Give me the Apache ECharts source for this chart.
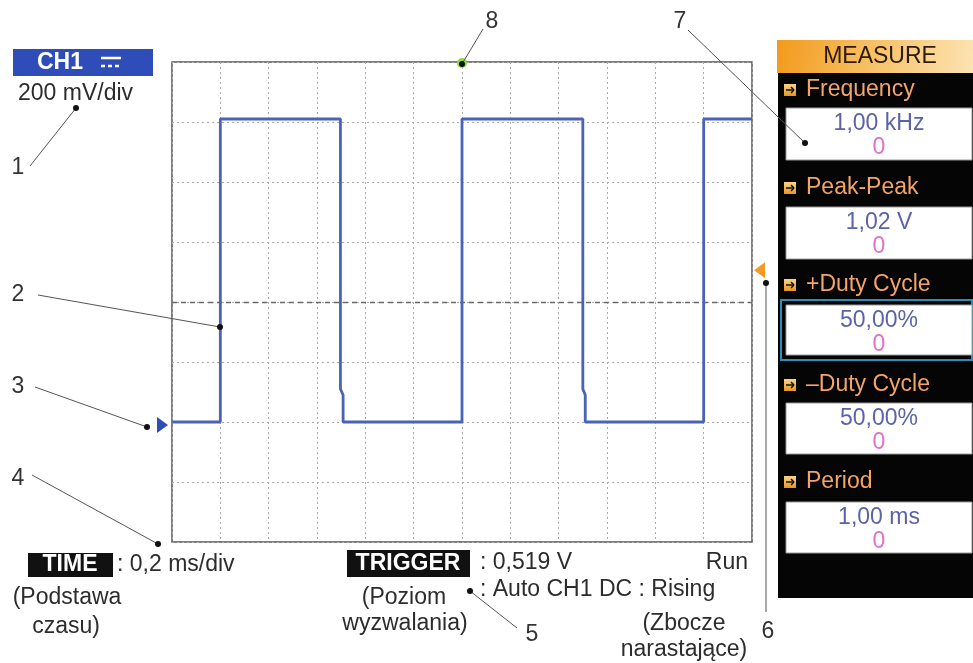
<!DOCTYPE html>
<html>
<head>
<meta charset="utf-8">
<script src="https://cdn.jsdelivr.net/npm/echarts@6/dist/echarts.min.js"></script>
<style>
html,body{margin:0;padding:0;background:#fff;}
#c{width:973px;height:663px;}
</style>
</head>
<body>
<div id="c"></div>
<script>
// ---- data (time in microseconds, voltage in millivolts) ----
const timeUs  = [-1200, -1000, -1000, -503, -503, -492, -492, 0, 0, 500, 500, 510, 510, 1000, 1000, 1200];
const voltsMv = [0, 0, 1010, 1010, 110, 90, 0, 0, 1010, 1010, 110, 90, 0, 0, 1010, 1010];
const xMin = -1200, xMax = 1200, xStep = 200;     // 0,2 ms/div
const yMin = -400, yMax = 1200, yStep = 200;      // 200 mV/div
const centerLineMv = 400;
const triggerLevelMv = 519;
const triggerTimeUs = 0;

const measureLabels = ['Frequency', 'Peak-Peak', '+Duty Cycle', '\u2013Duty Cycle', 'Period'];
const measureValues = ['1,00 kHz', '1,02 V', '50,00%', '50,00%', '1,00 ms'];
const measureZeros  = ['0', '0', '0', '0', '0'];

const FONT = '"Liberation Sans", Arial, sans-serif';
const chart = echarts.init(document.getElementById('c'));

const grid = {left: 172, top: 62, width: 580, height: 480};

function txt(x, y, text, opts) {
  opts = opts || {};
  return {type: 'text', x: x, y: y, z: opts.z || 10, style: {
    text: text, fill: opts.fill || '#2c2c2c', font: (opts.weight || 'normal') + ' ' + (opts.size || 23) + 'px ' + FONT,
    align: opts.align || 'left', verticalAlign: 'middle'}};
}
function rect(x, y, w, h, fill, stroke, lw, z) {
  return {type: 'rect', shape: {x: x, y: y, width: w, height: h}, z: z || 5,
    style: {fill: fill, stroke: stroke || null, lineWidth: lw || 0}};
}
function line(x1, y1, x2, y2, color, w, dash, z) {
  return {type: 'line', shape: {x1: x1, y1: y1, x2: x2, y2: y2}, z: z || 20,
    style: {stroke: color || '#555', lineWidth: w || 1, lineDash: dash || null}};
}
function dot(x, y, r, fill, z) {
  return {type: 'circle', shape: {cx: x, cy: y, r: r || 3}, z: z || 21, style: {fill: fill || '#111'}};
}

const g = [];
// CH1 badge
g.push(rect(13, 49, 140, 27, '#2f4db9', null, 0, 5));
g.push(txt(37, 63, 'CH1', {fill: '#fff', weight: 'bold'}));
g.push(line(101, 58, 121, 58, '#fff', 2.5, null, 11));
g.push(line(101, 66, 121, 66, '#fff', 2.5, [4, 3], 11));
g.push(txt(18, 94, '200 mV/div'));
// TIME
g.push(rect(28, 553, 85, 24, '#111'));
g.push(txt(70, 565, 'TIME', {fill: '#fff', weight: 'bold', align: 'center'}));
g.push(txt(117, 565, ': 0,2 ms/div'));
g.push(txt(67, 598, '(Podstawa', {align: 'center'}));
g.push(txt(66, 627, 'czasu)', {align: 'center'}));
// TRIGGER
g.push(rect(347, 550, 123, 27, '#111'));
g.push(txt(408, 564, 'TRIGGER', {fill: '#fff', weight: 'bold', align: 'center'}));
g.push(txt(480, 563, ': 0,519 V'));
g.push(txt(748, 563, 'Run', {align: 'right'}));
g.push(txt(480, 590, ': Auto CH1 DC : Rising'));
g.push(txt(404, 598, '(Poziom', {align: 'center'}));
g.push(txt(405, 624, 'wyzwalania)', {align: 'center'}));
g.push(txt(684, 624, '(Zbocze', {align: 'center'}));
g.push(txt(684, 650, 'narastaj\u0105ce)', {align: 'center'}));

// MEASURE panel
g.push({type: 'rect', shape: {x: 777, y: 40, width: 196, height: 33}, z: 5,
  style: {fill: new echarts.graphic.LinearGradient(0, 0, 1, 1, [
    {offset: 0, color: '#f29a1c'}, {offset: 0.5, color: '#f8c268'}, {offset: 1, color: '#fde3b4'}])}});
g.push(txt(880, 57, 'MEASURE', {fill: '#2b1b08', align: 'center'}));
g.push(rect(778, 73, 195, 525, '#050505'));
const labelY = [90, 188, 285, 385, 482];
const boxTop = [108, 207, 305, 403, 502];
const boxH   = [52, 52, 50, 51, 51];
for (let i = 0; i < measureLabels.length; i++) {
  g.push({type: 'rect', shape: {x: 784, y: labelY[i] - 6, width: 12, height: 12}, z: 8,
    style: {fill: new echarts.graphic.LinearGradient(0, 0, 0, 1, [
      {offset: 0, color: '#fbd38a'}, {offset: 1, color: '#e9951f'}])}});
  g.push(line(786, labelY[i], 794, labelY[i], '#111', 1.5, null, 9));
  g.push(line(791, labelY[i] - 3, 794, labelY[i], '#111', 1.5, null, 9));
  g.push(line(791, labelY[i] + 3, 794, labelY[i], '#111', 1.5, null, 9));
  g.push(txt(806, labelY[i], measureLabels[i], {fill: '#f3a36b'}));
  if (i === 2) g.push(rect(781, 300, 191, 60, null, '#2d8fb5', 2, 6));
  g.push(rect(786, boxTop[i], 186, boxH[i], '#fff', '#999', 1, 7));
  g.push(txt(879, boxTop[i] + 16, measureValues[i], {fill: '#5b62a8', align: 'center'}));
  g.push(txt(879, boxTop[i] + 40, measureZeros[i], {fill: '#e070c8', align: 'center'}));
}

// annotation numbers and leaders
const nums = [['1', 18, 168], ['2', 18, 295], ['3', 18, 387], ['4', 18, 479], ['5', 532, 635], ['6', 768, 632], ['7', 680, 22], ['8', 492, 22]];
nums.forEach(n => g.push(txt(n[1], n[2], n[0], {fill: '#333', align: 'center'})));
const leaders = [[30, 166, 76, 108], [38, 295, 220, 327], [35, 387, 147, 427], [32, 475, 158, 544],
                 [517, 628, 470, 591], [766, 612, 766, 283], [688, 30, 805, 143], [483, 29, 462, 64]];
leaders.forEach(l => { g.push(line(l[0], l[1], l[2], l[3], '#555', 1)); g.push(dot(l[2], l[3], 3)); });

const option = {
  backgroundColor: '#fff',
  animation: false,
  grid: Object.assign({show: true, borderColor: '#555', borderWidth: 1.5, backgroundColor: 'transparent'}, grid),
  xAxis: {type: 'value', min: xMin, max: xMax, interval: xStep,
    axisLine: {show: false}, axisTick: {show: false}, axisLabel: {show: false},
    splitLine: {show: true, lineStyle: {color: '#a8a8a8', width: 1, type: [2, 3]}}},
  yAxis: {type: 'value', min: yMin, max: yMax, interval: yStep,
    axisLine: {show: false}, axisTick: {show: false}, axisLabel: {show: false},
    splitLine: {show: true, lineStyle: {color: '#a8a8a8', width: 1, type: [2, 3]}}},
  series: [{
    type: 'line', data: timeUs.map((t, i) => [t, voltsMv[i]]), showSymbol: false, z: 5,
    lineStyle: {color: '#4a63b7', width: 2.8}, clip: false,
    markLine: {silent: true, symbol: 'none', label: {show: false},
      lineStyle: {color: '#6a6a6a', width: 1.3, type: [5, 4]},
      data: [{yAxis: centerLineMv}]}
  }],
  graphic: g
};
chart.setOption(option);

// channel/trigger markers placed through the axes' scales
const pGround = chart.convertToPixel({gridIndex: 0}, [xMin, 0]);
const pTrig = chart.convertToPixel({gridIndex: 0}, [xMax, triggerLevelMv]);
const pTime = chart.convertToPixel({gridIndex: 0}, [triggerTimeUs, yMax]);
const extra = [
  {type: 'polygon', z: 12, shape: {points: [[pGround[0] - 15, pGround[1] - 5], [pGround[0] - 4, pGround[1] + 3], [pGround[0] - 15, pGround[1] + 11]]}, style: {fill: '#2f4db9'}},
  {type: 'polygon', z: 12, shape: {points: [[pTrig[0] + 13, pTrig[1] - 4], [pTrig[0] + 2, pTrig[1] + 4], [pTrig[0] + 13, pTrig[1] + 12]]}, style: {fill: '#f39a22'}},
  {type: 'circle', z: 19, shape: {cx: pTime[0], cy: pTime[1] + 1, r: 5}, style: {fill: '#8fdc3c'}}
];
chart.setOption({graphic: g.concat(extra)});
</script>
</body>
</html>
